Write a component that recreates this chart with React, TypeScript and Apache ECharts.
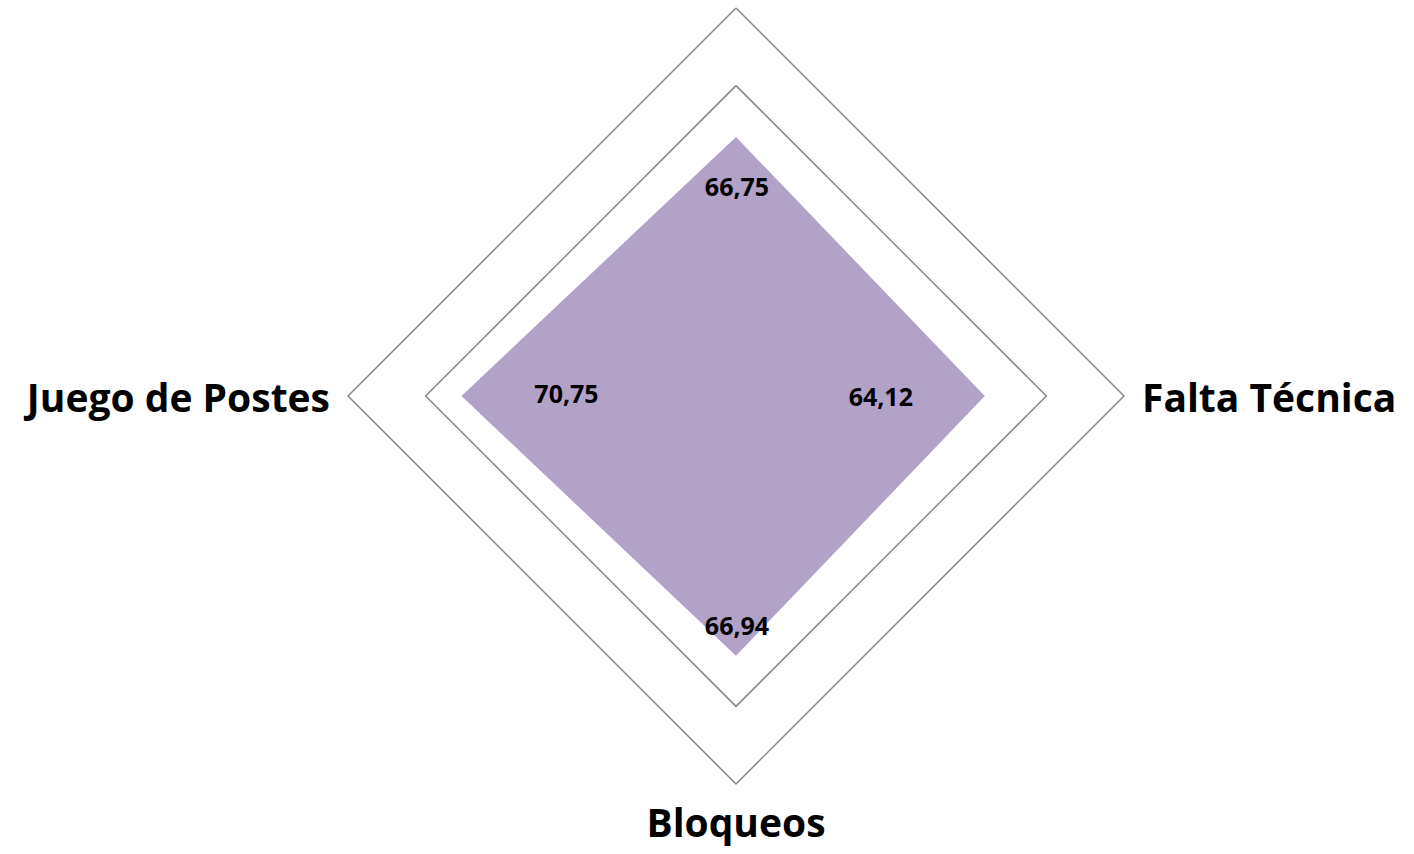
import React, { useEffect, useRef } from "react";
import * as echarts from "echarts";

// Indicators in ECharts order (counter-clockwise from top)
const indicatorNames = ["", "Juego de Postes", "Bloqueos", "Falta Técnica"];
const values = [66.75, 70.75, 66.94, 64.12];
const axisMax = 100;
const ringCount = 5;

// label offsets (px) relative to each vertex, pointing inward
const labelOffsets: [number, number][] = [
  [1, 49],
  [105, -3],
  [1, -31],
  [-104, 0],
];

const fmt = (v: number) => v.toFixed(2).replace(".", ",");

export default function App() {
  const ref = useRef<HTMLDivElement>(null);
  useEffect(() => {
    if (!ref.current) return;
    const chart = echarts.init(ref.current, undefined, { renderer: "svg" });
    const labelItems = values.map((target, i) => ({
      value: values,
      symbol: "circle",
      symbolSize: 1,
      itemStyle: { color: "rgba(0,0,0,0)" },
      lineStyle: { width: 0, color: "rgba(0,0,0,0)" },
      areaStyle: { opacity: 0 },
      label: {
        show: true,
        position: "inside",
        offset: labelOffsets[i],
        color: "#000",
        fontFamily: "Open Sans",
        fontWeight: "bold",
        fontSize: 25,
        formatter: (p: any) => (p.value === target ? fmt(target) : ""),
      },
    }));
    chart.setOption({
      animation: false,
      backgroundColor: "#ffffff",
      radar: {
        center: [736, 396],
        radius: 388,
        startAngle: 90,
        shape: "polygon",
        splitNumber: ringCount,
        indicator: indicatorNames.map((name) => ({ name, min: 0, max: axisMax })),
        axisName: {
          color: "#000",
          fontFamily: "Open Sans",
          fontWeight: "bold",
          fontSize: 39,
        },
        nameGap: 18,
        axisLine: { show: false },
        axisTick: { show: false },
        axisLabel: { show: false },
        splitArea: { show: false },
        splitLine: { lineStyle: { color: "#878787", width: 1.5 } },
      },
      series: [
        {
          type: "radar",
          silent: true,
          data: [
            {
              value: values,
              symbol: "none",
              lineStyle: { width: 0 },
              areaStyle: { color: "#b3a2c8", opacity: 1 },
              label: { show: false },
            },
            ...labelItems,
          ],
        },
      ],
    });
    return () => chart.dispose();
  }, []);
  return (
    <div
      ref={ref}
      style={{ position: "fixed", left: 0, top: 0, width: 1414, height: 854 }}
    />
  );
}
